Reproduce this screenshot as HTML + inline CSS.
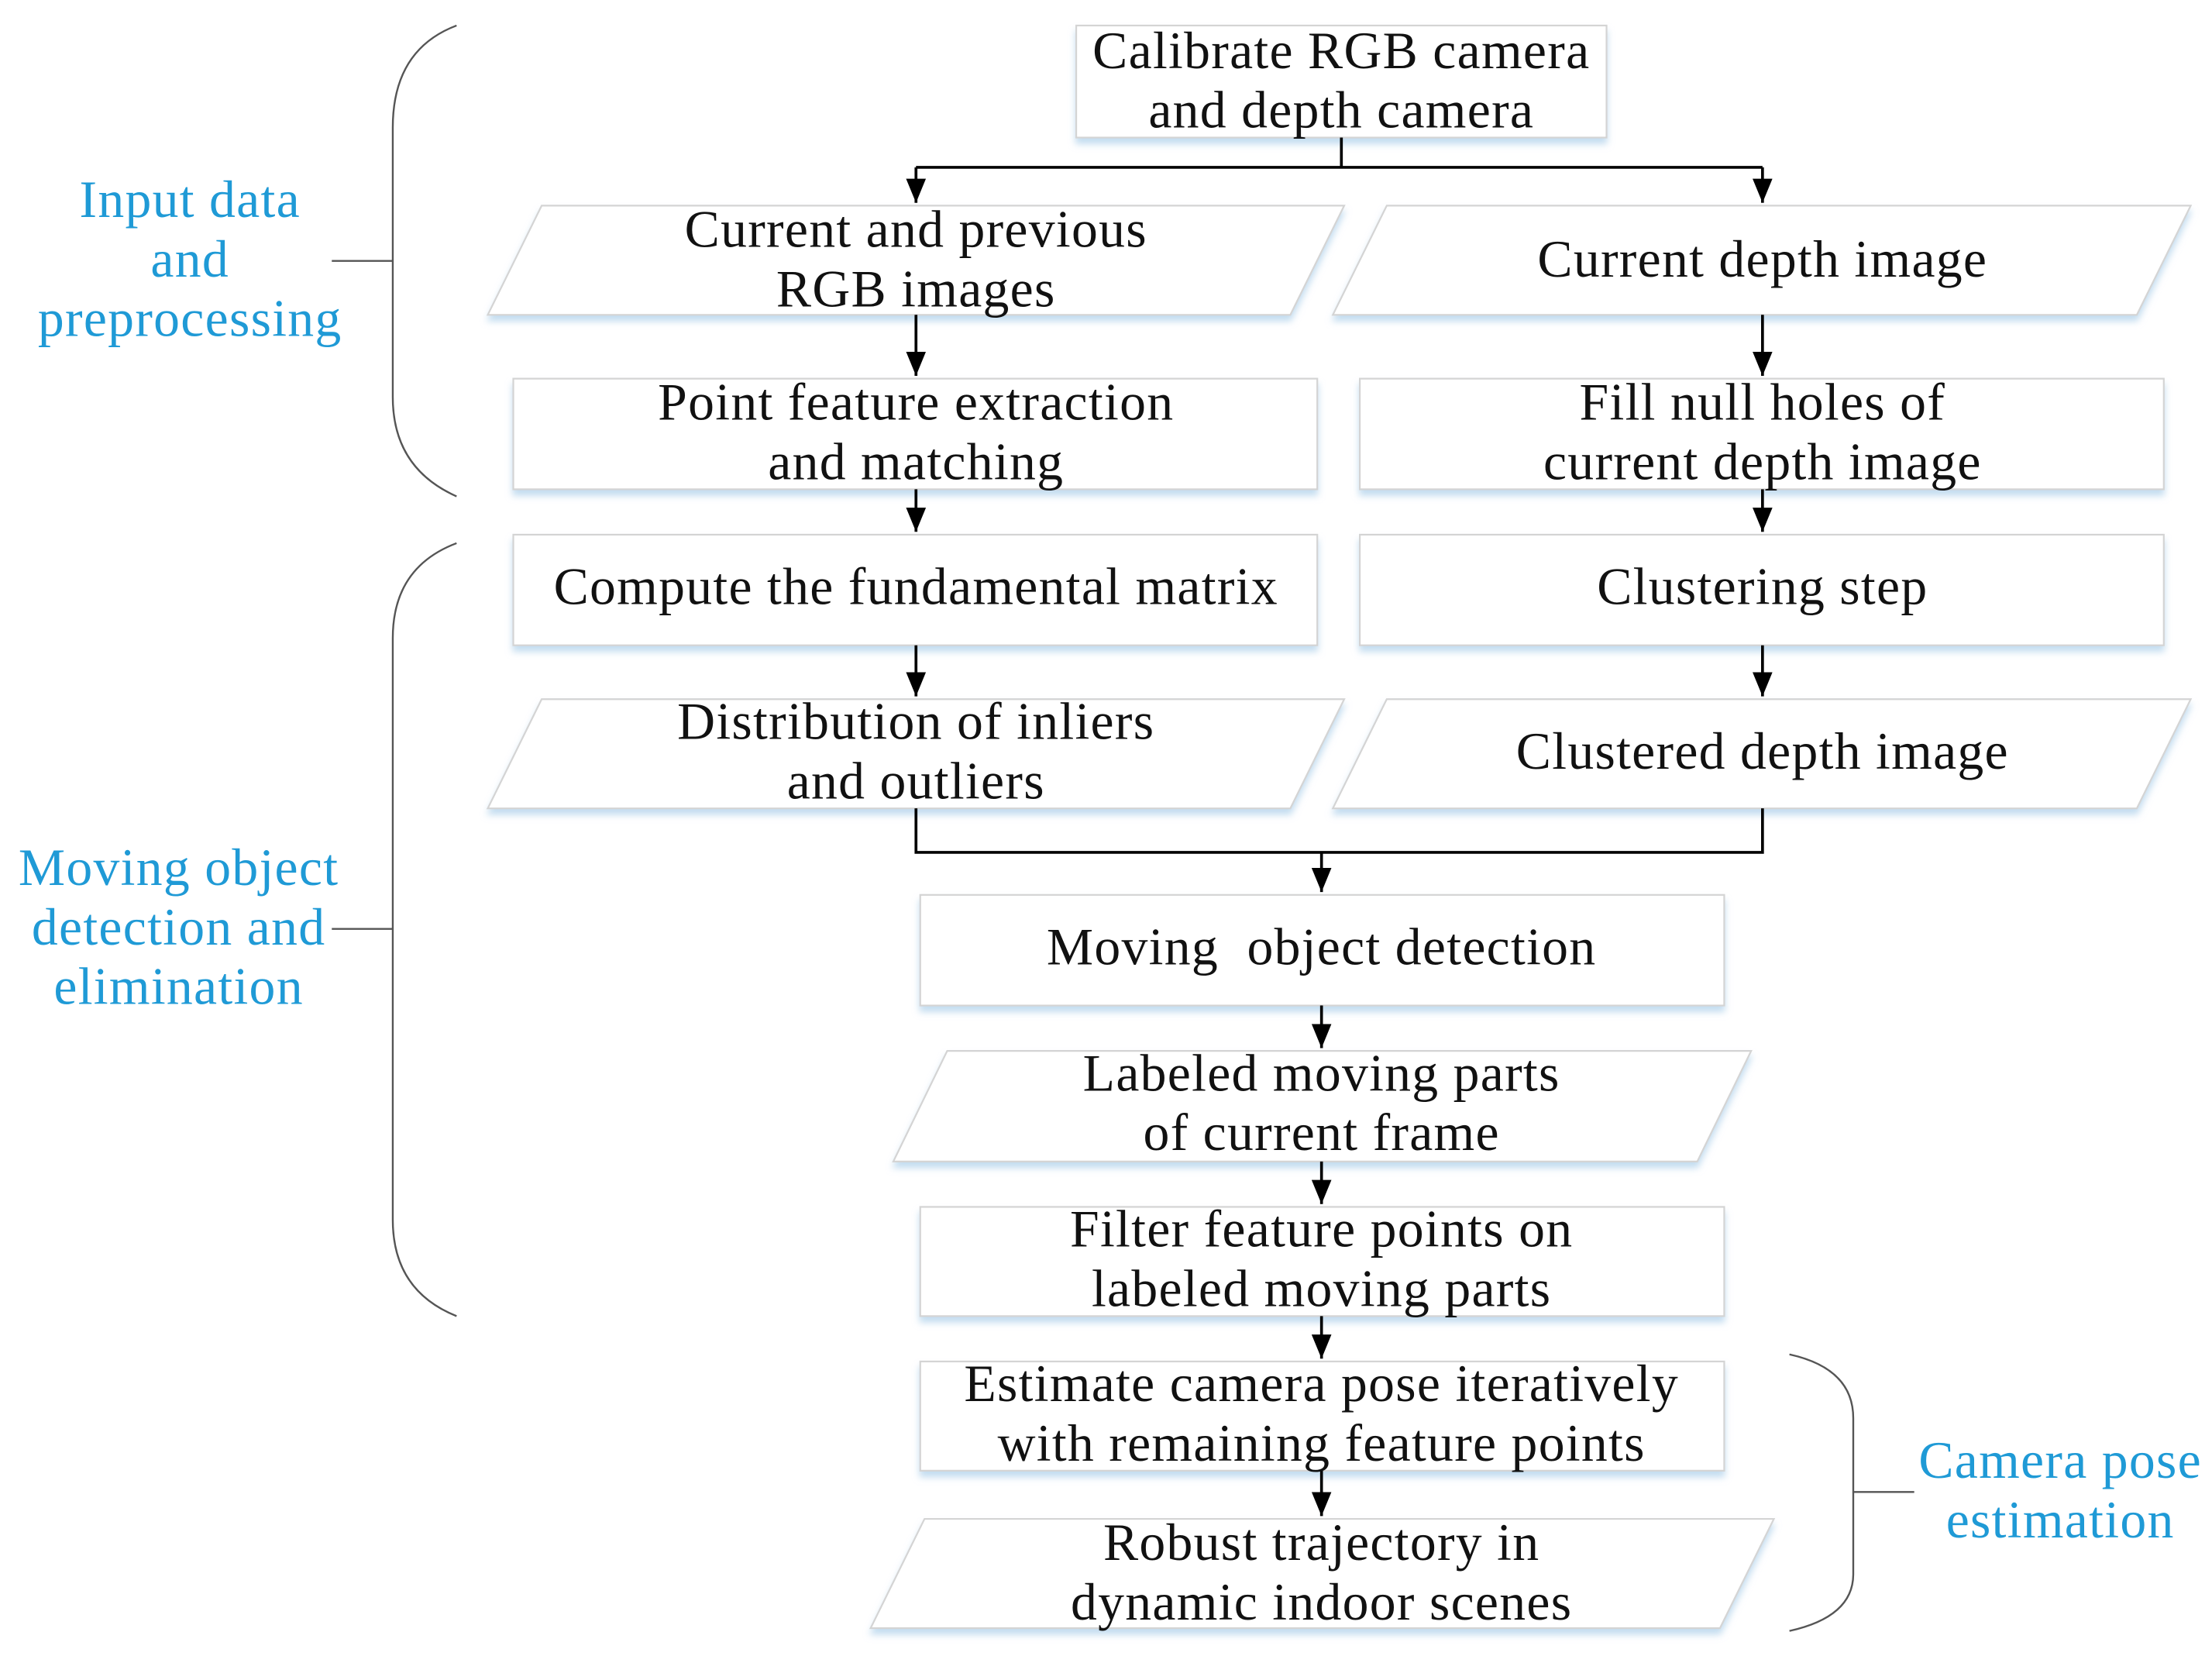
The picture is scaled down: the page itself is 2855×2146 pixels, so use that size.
<!DOCTYPE html>
<html><head><meta charset="utf-8"><style>
html,body{margin:0;padding:0;background:#fff;}
svg{display:block;}
text{font-family:"Liberation Serif",serif;font-size:37px;letter-spacing:0.7px;fill:#111;text-anchor:middle;}
.b{fill:#1f9ad6;}
</style></head><body>
<svg width="2855" height="2146" viewBox="0 0 1560 1172.6" xmlns="http://www.w3.org/2000/svg">
<defs>
<marker id="a" markerWidth="17" markerHeight="14" refX="17" refY="7" orient="auto" markerUnits="userSpaceOnUse">
<path d="M0,0 L17,7 L0,14 z" fill="#000"/></marker>
<filter id="s" x="-5%" y="-10%" width="110%" height="130%"><feDropShadow dx="0" dy="4" stdDeviation="2.5" flood-color="#a9cde9" flood-opacity="0.7"/></filter>
</defs>
<g fill="#fff" stroke="#d4d4d4" stroke-width="1.2" filter="url(#s)">
<rect x="759" y="18" width="374" height="79"/>
<polygon points="382,145 948,145 910,222 344,222"/>
<polygon points="978,145 1545,145 1507,222 940,222"/>
<rect x="362" y="267" width="567" height="78"/>
<rect x="959" y="267" width="567" height="78"/>
<rect x="362" y="377" width="567" height="78"/>
<rect x="959" y="377" width="567" height="78"/>
<polygon points="382,493 948,493 910,570 344,570"/>
<polygon points="978,493 1545,493 1507,570 940,570"/>
<rect x="649" y="631" width="567" height="78"/>
<polygon points="668,741 1235,741 1197,819 630,819"/>
<rect x="649" y="851" width="567" height="77"/>
<rect x="649" y="960" width="567" height="77"/>
<polygon points="652,1071 1251,1071 1213,1148 614,1148"/>
</g>
<g stroke="#000" stroke-width="2" fill="none">
<path d="M946,97 V118"/>
<path d="M646,118 H1243"/>
<path d="M646,118 V143" marker-end="url(#a)"/>
<path d="M1243,118 V143" marker-end="url(#a)"/>
<path d="M646,222 V265" marker-end="url(#a)"/>
<path d="M1243,222 V265" marker-end="url(#a)"/>
<path d="M646,345 V375" marker-end="url(#a)"/>
<path d="M1243,345 V375" marker-end="url(#a)"/>
<path d="M646,455 V491" marker-end="url(#a)"/>
<path d="M1243,455 V491" marker-end="url(#a)"/>
<path d="M646,570 V601 H1243 V570"/>
<path d="M932,601 V629" marker-end="url(#a)"/>
<path d="M932,709 V739" marker-end="url(#a)"/>
<path d="M932,819 V849" marker-end="url(#a)"/>
<path d="M932,928 V958" marker-end="url(#a)"/>
<path d="M932,1037 V1069" marker-end="url(#a)"/>
</g>
<g stroke="#555" stroke-width="1.3" fill="none">
<path d="M322,18 Q277,35 277,90 V280 Q277,330 322,350"/>
<path d="M234,184 H277"/>
<path d="M322,383 Q277,400 277,450 V860 Q277,910 322,928"/>
<path d="M234,655 H277"/>
<path d="M1262,955 Q1307,965 1307,1000 V1110 Q1307,1140 1262,1150"/>
<path d="M1307,1052 H1350"/>
</g>
<text x="946" y="48">Calibrate RGB camera</text>
<text x="946" y="90">and depth camera</text>
<text x="646" y="174">Current and previous</text>
<text x="646" y="216">RGB images</text>
<text x="1243" y="195">Current depth image</text>
<text x="646" y="296">Point feature extraction</text>
<text x="646" y="338">and matching</text>
<text x="1243" y="296">Fill null holes of</text>
<text x="1243" y="338">current depth image</text>
<text x="646" y="426">Compute the fundamental matrix</text>
<text x="1243" y="426">Clustering step</text>
<text x="646" y="521">Distribution of inliers</text>
<text x="646" y="563">and outliers</text>
<text x="1243" y="542">Clustered depth image</text>
<text x="932" y="680" xml:space="preserve">Moving  object detection</text>
<text x="932" y="769">Labeled moving parts</text>
<text x="932" y="811">of current frame</text>
<text x="932" y="879">Filter feature points on</text>
<text x="932" y="921">labeled moving parts</text>
<text x="932" y="988">Estimate camera pose iteratively</text>
<text x="932" y="1030">with remaining feature points</text>
<text x="932" y="1100">Robust trajectory in</text>
<text x="932" y="1142">dynamic indoor scenes</text>
<text class="b" x="134" y="153">Input data</text>
<text class="b" x="134" y="195">and</text>
<text class="b" x="134" y="237">preprocessing</text>
<text class="b" x="126" y="624">Moving object</text>
<text class="b" x="126" y="666">detection and</text>
<text class="b" x="126" y="708">elimination</text>
<text class="b" x="1453" y="1042">Camera pose</text>
<text class="b" x="1453" y="1084">estimation</text>
</svg>
</body></html>
